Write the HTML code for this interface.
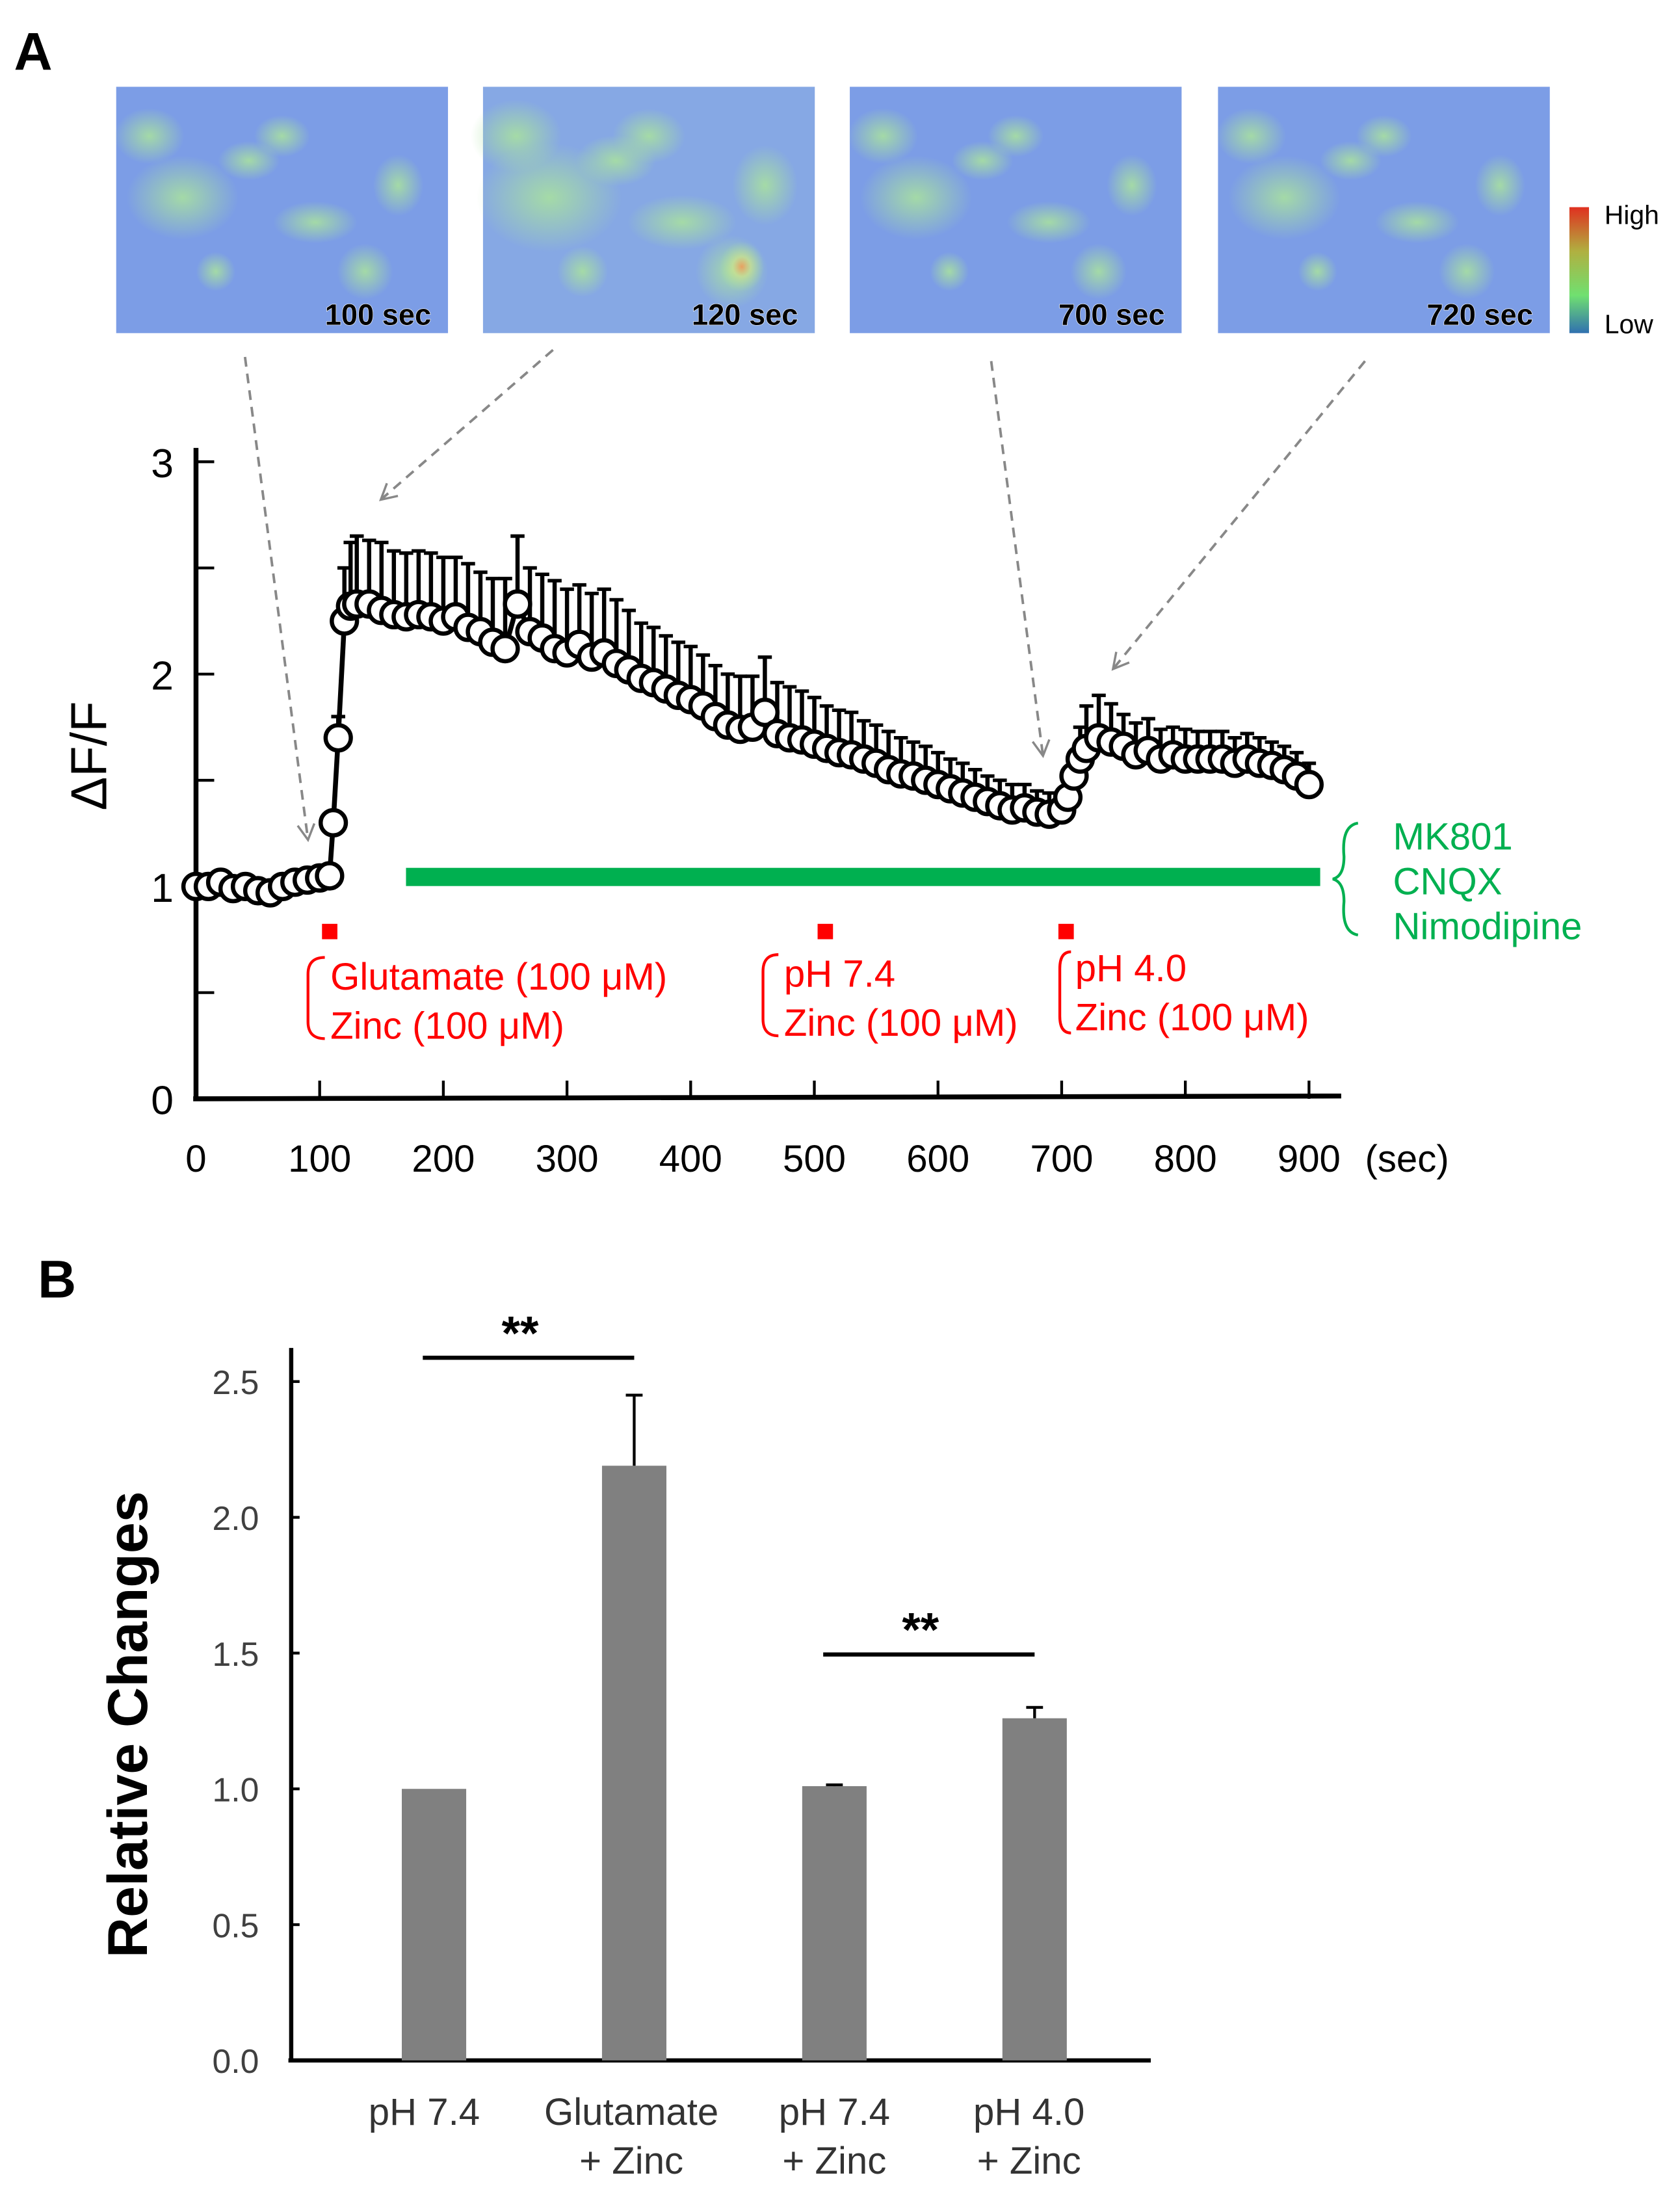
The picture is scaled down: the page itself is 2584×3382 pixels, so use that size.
<!DOCTYPE html>
<html><head><meta charset="utf-8"><style>
html,body{margin:0;padding:0;background:#fff;}
svg{display:block;}
text{font-family:"Liberation Sans",sans-serif;}
</style></head><body>
<svg id="fig" width="2584" height="3382" viewBox="0 0 1200 1571" preserveAspectRatio="none" xmlns="http://www.w3.org/2000/svg">
<defs>
<radialGradient id="spot" cx="50%" cy="50%" r="50%"><stop offset="0" stop-color="#a8e0a0" stop-opacity="0.9"/><stop offset="1" stop-color="#a8e0a0" stop-opacity="0"/></radialGradient>
<radialGradient id="spotHot" cx="50%" cy="50%" r="50%"><stop offset="0" stop-color="#e8a060"/><stop offset="0.4" stop-color="#c8e090" stop-opacity="0.8"/><stop offset="1" stop-color="#a8e0a0" stop-opacity="0"/></radialGradient>
<linearGradient id="cbar" x1="0" y1="0" x2="0" y2="1"><stop offset="0" stop-color="#e03020"/><stop offset="0.35" stop-color="#b0b040"/><stop offset="0.7" stop-color="#70e070"/><stop offset="1" stop-color="#3070b0"/></linearGradient>
<marker id="arr" markerWidth="14" markerHeight="14" refX="12" refY="7" orient="auto" markerUnits="userSpaceOnUse"><path d="M1,1 L12,7 L1,13" fill="none" stroke="#888" stroke-width="1.6"/></marker>
</defs>
<text x="10" y="50" font-size="38" font-weight="bold">A</text>
<g id="imgs"></g>
<rect x="1121" y="148" width="14" height="90" fill="url(#cbar)"/>
<text x="1146" y="160" font-size="19">High</text>
<text x="1146" y="238" font-size="19">Low</text>
<g stroke="#888" stroke-width="1.8" stroke-dasharray="7,5" fill="none">
<line x1="175" y1="255" x2="220" y2="600" marker-end="url(#arr)"/>
<line x1="395" y1="250" x2="272" y2="357" marker-end="url(#arr)"/>
<line x1="708" y1="258" x2="745" y2="540" marker-end="url(#arr)"/>
<line x1="975" y1="258" x2="795" y2="478" marker-end="url(#arr)"/>
</g>
<g id="chartA"></g>
<text transform="translate(76,540) rotate(-90)" font-size="36" text-anchor="middle">ΔF/F</text>
<text x="975" y="837" font-size="27">(sec)</text>
<rect x="290" y="620" width="653" height="13" fill="#00b050"/>
<path d="M970,588 Q958,590 960,612 Q960,626 952,628 Q960,630 960,644 Q958,666 970,668" fill="none" stroke="#00b050" stroke-width="2"/>
<g fill="#00b050" font-size="27">
<text x="995" y="607">MK801</text>
<text x="995" y="639">CNQX</text>
<text x="995" y="671">Nimodipine</text>
</g>
<g fill="#ff0000">
<rect x="230" y="660" width="11" height="11"/>
<rect x="584" y="660" width="11" height="11"/>
<rect x="756" y="660" width="11" height="11"/>
</g>
<g fill="#ff0000" font-size="27">
<text x="236" y="707">Glutamate (100 μM)</text>
<text x="236" y="742">Zinc (100 μM)</text>
<text x="560" y="705">pH 7.4</text>
<text x="560" y="740">Zinc (100 μM)</text>
<text x="768" y="701">pH 4.0</text>
<text x="768" y="736">Zinc (100 μM)</text>
</g>
<g fill="none" stroke="#ff0000" stroke-width="2">
<path d="M232,684 Q220,684 220,696 L220,730 Q220,742 232,742"/>
<path d="M556,682 Q545,682 545,694 L545,728 Q545,740 556,740"/>
<path d="M765,680 Q757,680 757,692 L757,726 Q757,738 765,738"/>
</g>
<text x="27" y="927" font-size="38" font-weight="bold">B</text>
<g id="chartB"></g>
<text transform="translate(105,1232) rotate(-90)" font-size="40" font-weight="bold" text-anchor="middle">Relative Changes</text>
</svg>
<script>
// ---- Panel A data ----
const timesA = [0,10,20,30,40,50,60,70,80,90,100,108,111,115,120,125,130,140,150,160,170,180,190,200,210,220,230,240,250,260,270,280,290,300,310,320,330,340,350,360,370,380,390,400,410,420,430,440,450,460,470,480,490,500,510,520,530,540,550,560,570,580,590,600,610,620,630,640,650,660,670,680,690,700,705,710,715,720,730,740,750,760,770,780,790,800,810,820,830,840,850,860,870,880,890,900];
const valuesA = [1.0,1.0,1.02,0.99,1.0,0.98,0.97,1.0,1.02,1.03,1.04,1.05,1.3,1.7,2.25,2.32,2.33,2.33,2.3,2.28,2.27,2.28,2.27,2.25,2.27,2.22,2.2,2.15,2.12,2.33,2.2,2.17,2.12,2.1,2.14,2.08,2.1,2.05,2.02,1.98,1.96,1.93,1.9,1.88,1.85,1.8,1.76,1.74,1.75,1.82,1.72,1.7,1.69,1.67,1.65,1.63,1.62,1.6,1.58,1.55,1.53,1.52,1.5,1.48,1.46,1.44,1.42,1.4,1.38,1.36,1.37,1.35,1.34,1.36,1.42,1.52,1.6,1.65,1.7,1.68,1.66,1.62,1.64,1.6,1.62,1.6,1.6,1.6,1.6,1.58,1.6,1.58,1.57,1.55,1.52,1.48];
const errorsA = [0.02,0.02,0.02,0.02,0.02,0.02,0.02,0.02,0.02,0.02,0.02,0.03,0.05,0.1,0.25,0.3,0.32,0.3,0.32,0.3,0.3,0.3,0.3,0.3,0.28,0.3,0.28,0.3,0.33,0.32,0.3,0.3,0.32,0.3,0.28,0.3,0.3,0.3,0.28,0.26,0.26,0.25,0.25,0.25,0.24,0.24,0.24,0.25,0.24,0.26,0.24,0.24,0.23,0.22,0.2,0.2,0.2,0.18,0.18,0.18,0.17,0.16,0.16,0.15,0.14,0.14,0.13,0.12,0.12,0.12,0.11,0.1,0.1,0.08,0.08,0.1,0.15,0.2,0.2,0.18,0.15,0.15,0.15,0.14,0.13,0.14,0.13,0.13,0.13,0.12,0.12,0.12,0.11,0.11,0.11,0.1];
const xTicksA = [0,100,200,300,400,500,600,700,800,900];
const yTicksA = [0,1,2,3];
const yMinorA = [0.5,1.5,2.5];
// ---- Panel B data ----
const categoriesB = [["pH 7.4"],["Glutamate","+ Zinc"],["pH 7.4","+ Zinc"],["pH 4.0","+ Zinc"]];
const valuesB = [1.0,2.19,1.01,1.26];
const errorsB = [0,0.26,0.005,0.04];
const yTicksB = ["0.0","0.5","1.0","1.5","2.0","2.5"];

const NS="http://www.w3.org/2000/svg";
function mk(tag,attrs,parent){const e=document.createElementNS(NS,tag);for(const k in attrs)e.setAttribute(k,attrs[k]);parent.appendChild(e);return e;}

// images
const imgs=document.getElementById('imgs');
const imgX=[83,345,607,870], imgLbl=["100 sec","120 sec","700 sec","720 sec"];
const spots=[[0.2,0.45,40,30],[0.5,0.2,20,15],[0.85,0.4,18,22],[0.75,0.75,20,20],[0.3,0.75,14,14],[0.1,0.2,25,20],[0.6,0.55,30,15],[0.4,0.3,22,14]];
imgX.forEach((x,i)=>{
  const g=mk('g',{},imgs);
  
  
  mk('rect',{x:x,y:62,width:237,height:176,fill:i==1?'#86a8e4':'#7c9de6'},g);
  spots.forEach(s=>mk('ellipse',{cx:x+s[0]*237,cy:62+s[1]*176,rx:s[2]*(i==1?1.3:1),ry:s[3]*(i==1?1.3:1),fill:'url(#spot)'},g));
  if(i==1)mk('ellipse',{cx:x+0.78*237,cy:62+0.73*176,rx:16,ry:18,fill:'url(#spotHot)'},g);
  const t=mk('text',{x:x+225,y:232,'font-size':21,'font-weight':'bold','text-anchor':'end',stroke:'#fff','stroke-width':0.6,'paint-order':'stroke'},g);
  t.textContent=imgLbl[i];
});

// chart A
const A=document.getElementById('chartA');
const xA=t=>140+t*(795/900), yA=v=>785-v*151.7;
mk('line',{x1:140,y1:320,x2:140,y2:786,stroke:'#000','stroke-width':3.5},A);
mk('line',{x1:138,y1:785,x2:958,y2:783,stroke:'#000','stroke-width':3.5},A);
yTicksA.concat(yMinorA).forEach(v=>{mk('line',{x1:140,y1:yA(v),x2:153,y2:yA(v),stroke:'#000','stroke-width':2},A);});
yTicksA.forEach(v=>{const t=mk('text',{x:124,y:yA(v)+11,'font-size':29,'text-anchor':'end'},A);


t.textContent=v;});
xTicksA.forEach(v=>{mk('line',{x1:xA(v),y1:785,x2:xA(v),y2:772,stroke:'#000','stroke-width':2},A);
const t=mk('text',{x:xA(v),y:837,'font-size':27,'text-anchor':'middle'},A);


t.textContent=v;});
timesA.forEach((t,i)=>{const x=xA(t),y=yA(valuesA[i]),ye=yA(valuesA[i]+errorsA[i]);
const l=mk('line',{x1:x,y1:y,x2:x,y2:ye,stroke:'#000','stroke-width':3},A);


mk('line',{x1:x-5,y1:ye,x2:x+5,y2:ye,stroke:'#000','stroke-width':2.5},A);});
const line=mk('polyline',{points:timesA.map((t,i)=>xA(t)+','+yA(valuesA[i])).join(' '),fill:'none',stroke:'#000','stroke-width':3.5},A);


timesA.forEach((t,i)=>{const c=mk('circle',{cx:xA(t),cy:yA(valuesA[i]),r:9,fill:'#fff',stroke:'#000','stroke-width':3},A);

});

// chart B
const B=document.getElementById('chartB');
const yB=v=>1472-v*194, xB=i=>310+i*143;
const labelShift=[-7,-2,0,-4];
mk('line',{x1:208,y1:963,x2:208,y2:1473,stroke:'#000','stroke-width':3},B);
mk('line',{x1:206,y1:1472,x2:822,y2:1472,stroke:'#000','stroke-width':3},B);
yTicksB.forEach(s=>{const v=parseFloat(s);mk('line',{x1:208,y1:yB(v),x2:214,y2:yB(v),stroke:'#000','stroke-width':2},B);
const t=mk('text',{x:185,y:yB(v)+9,'font-size':24,'text-anchor':'end',fill:'#404040'},B);


t.textContent=s;});
valuesB.forEach((v,i)=>{const x=xB(i);
const r=mk('rect',{x:x-23,y:yB(v),width:46,height:1472-yB(v),fill:'#808080'},B);


if(errorsB[i]>0){const ye=yB(v+errorsB[i]);mk('line',{x1:x,y1:yB(v),x2:x,y2:ye,stroke:'#000','stroke-width':2},B);mk('line',{x1:x-6,y1:ye,x2:x+6,y2:ye,stroke:'#000','stroke-width':2},B);}
categoriesB[i].forEach((s,j)=>{const t=mk('text',{x:x+labelShift[i],y:1518+j*35,'font-size':27,'text-anchor':'middle',fill:'#333'},B);


t.textContent=s;});});
[[0,1,970],[2,3,1182]].forEach(s=>{mk('line',{x1:xB(s[0])-8,y1:s[2],x2:xB(s[1]),y2:s[2],stroke:'#000','stroke-width':3},B);
const t=mk('text',{x:(xB(s[0])+xB(s[1]))/2-10,y:s[2]-6,'font-size':34,'font-weight':'bold','text-anchor':'middle'},B);


t.textContent='**';});
</script>
</body></html>
